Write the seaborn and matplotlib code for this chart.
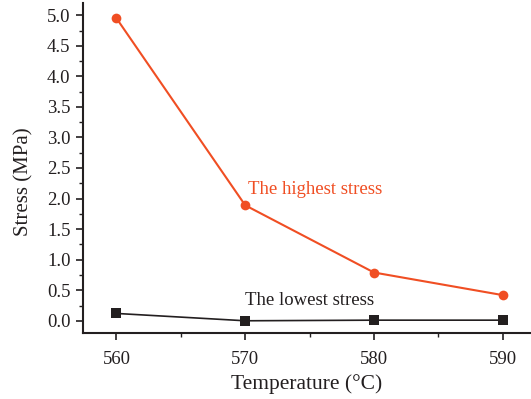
import matplotlib
matplotlib.use("Agg")
import matplotlib.pyplot as plt
import seaborn as sns
import pandas as pd
from matplotlib.ticker import MultipleLocator

temps = [560, 570, 580, 590]
highest = [4.95, 1.89, 0.79, 0.42]
lowest = [0.12, 0.00, 0.01, 0.01]

sns.set_theme(style="ticks")
plt.rcParams['font.family'] = ['Liberation Serif', 'DejaVu Serif']

red = "#F04E23"
black = "#231F20"

df = pd.DataFrame({"Temperature": temps + temps,
                   "Stress": highest + lowest,
                   "Series": ["high"] * 4 + ["low"] * 4})

fig = plt.figure(figsize=(5.31, 3.99), dpi=100)
ax = fig.add_axes([83/531, (399-333)/399, (531-83)/531, (333-3)/399])

sns.lineplot(data=df[df.Series == "high"], x="Temperature", y="Stress", ax=ax,
             color=red, marker="o", markersize=7, markeredgewidth=0, linewidth=1.5)
sns.lineplot(data=df[df.Series == "low"], x="Temperature", y="Stress", ax=ax,
             color=black, marker="s", markersize=7, markeredgewidth=0, linewidth=1.2)

ax.set_xlim(557.4, 592.2)
ax.set_ylim(-0.2, 5.2)
ax.set_xticks(temps)
ax.yaxis.set_major_locator(MultipleLocator(0.5))
ax.yaxis.set_minor_locator(MultipleLocator(0.25))
ax.xaxis.set_minor_locator(MultipleLocator(5))
ax.yaxis.set_major_formatter(matplotlib.ticker.FormatStrFormatter('%.1f'))
ax.tick_params(which="major", direction="out", length=5, width=1.2, labelsize=13.5, colors=black, pad=4)
ax.tick_params(which="minor", direction="out", length=3, width=1.0, colors=black)
ax.tick_params(axis='x', pad=8)
for s in ["top", "right"]:
    ax.spines[s].set_visible(False)
for s in ["left", "bottom"]:
    ax.spines[s].set_linewidth(1.5)
    ax.spines[s].set_color(black)

ax.set_xlabel("Temperature (°C)", fontsize=15.5, color=black, labelpad=4)
ax.set_ylabel("Stress (MPa)", fontsize=15, color=black)
ax.yaxis.set_label_coords(-0.11, 0.46)

ax.text(570.2, 2.15, "The highest stress", color=red, fontsize=13.5, ha="left", va="center")
ax.text(570.0, 0.33, "The lowest stress", color=black, fontsize=13.5, ha="left", va="center")

fig.savefig("out.png", dpi=100)
